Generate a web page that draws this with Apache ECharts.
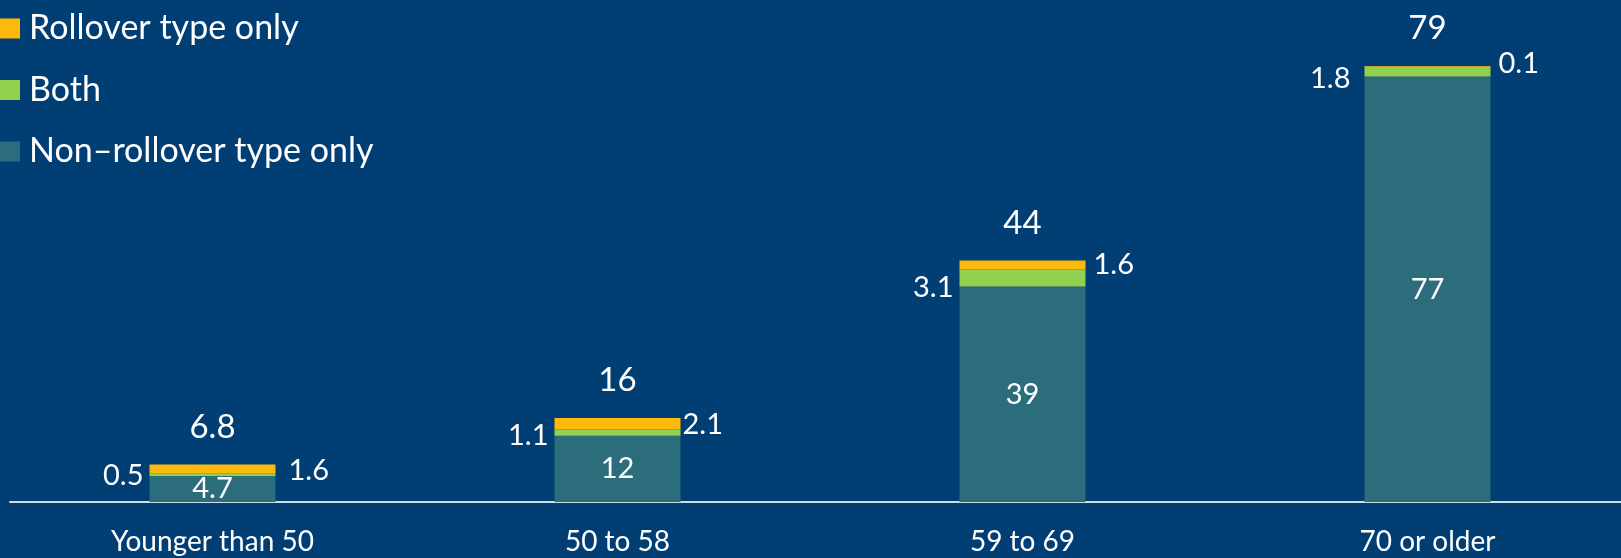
<!DOCTYPE html>
<html>
<head>
<meta charset="utf-8">
<title>Accounts by age group</title>
<script src="https://cdn.jsdelivr.net/npm/echarts@6/dist/echarts.min.js"></script>
<style>
  html, body { margin: 0; padding: 0; background: #013E74; overflow: hidden; }
  /* canvas runs a little past the right edge so the last band is full width */
  #chart { width: 1640px; height: 558px; }
</style>
</head>
<body>
<div id="chart"></div>
<script>
// Age groups along the x axis
const categories = ['Younger than 50', '50 to 58', '59 to 69', '70 or older'];

// Stacked segments, bottom to top
const nonRollover = [4.7, 12, 39, 77];
const both = [0.5, 1.1, 3.1, 1.8];
const rolloverOnly = [1.6, 2.1, 1.6, 0.1];

// Totals printed above each stack
const totals = [6.8, 16, 44, 79];

const seriesNames = ['Rollover type only', 'Both', 'Non\u2013rollover type only'];

const FONT = 'Lato, "Open Sans", sans-serif';
const WHITE = '#FFFFFF';

// hand-placed label nudges [dx, dy] for the side labels
const bothLabelShift = [[0, 1], [0, 3], [0, 10], [-8, 7]];
const rolloverLabelShift = [[5, 2], [-6, 1], [0, 0], [0, -3]];

function withShift(values, shifts) {
  return values.map((v, i) => ({ value: v, label: { offset: shifts[i] } }));
}

const chart = echarts.init(document.getElementById('chart'), null, { renderer: 'canvas' });

const option = {
  backgroundColor: '#013E74',
  animation: false,
  textStyle: { fontFamily: FONT },
  legend: {
    orient: 'vertical',
    left: 0,
    top: 11.5,
    padding: 0,
    itemWidth: 20,
    itemHeight: 20,
    itemGap: 27.5,
    icon: 'rect',
    data: seriesNames,
    textStyle: {
      color: WHITE,
      fontFamily: FONT,
      fontSize: 34,
      padding: [0, 0, 0, 4]
    }
  },
  grid: {
    left: 10,
    width: 1620,
    top: 60,
    height: 442,
    containLabel: false
  },
  xAxis: {
    type: 'category',
    data: categories,
    axisLine: { show: true, lineStyle: { color: '#D3DBE4', width: 2 } },
    axisTick: { show: false },
    axisLabel: {
      color: WHITE,
      fontFamily: FONT,
      fontSize: 28,
      margin: 26
    }
  },
  yAxis: {
    type: 'value',
    min: 0,
    max: 80,
    show: false,
    splitLine: { show: false }
  },
  series: [
    {
      name: seriesNames[2],
      type: 'bar',
      stack: 'age',
      barWidth: 126,
      data: nonRollover,
      itemStyle: { color: '#2C6D7C' },
      label: {
        show: true,
        position: 'inside',
        color: WHITE,
        fontFamily: FONT,
        fontSize: 29
      }
    },
    {
      name: seriesNames[1],
      type: 'bar',
      stack: 'age',
      barWidth: 126,
      data: withShift(both, bothLabelShift),
      itemStyle: { color: '#92D050' },
      label: {
        show: true,
        position: 'left',
        distance: 6,
        color: WHITE,
        fontFamily: FONT,
        fontSize: 29
      }
    },
    {
      name: seriesNames[0],
      type: 'bar',
      stack: 'age',
      barWidth: 126,
      data: withShift(rolloverOnly, rolloverLabelShift),
      itemStyle: { color: '#FFB80C' },
      label: {
        show: true,
        position: 'right',
        distance: 8,
        color: WHITE,
        fontFamily: FONT,
        fontSize: 29
      }
    },
    {
      // zero-height cap carrying the total above each stack
      name: 'Total',
      type: 'bar',
      stack: 'age',
      barWidth: 126,
      data: totals.map(() => 0),
      itemStyle: { color: 'rgba(0,0,0,0)' },
      legendHoverLink: false,
      label: {
        show: true,
        position: 'top',
        distance: 21,
        color: WHITE,
        fontFamily: FONT,
        fontSize: 33,
        formatter: (p) => String(totals[p.dataIndex])
      }
    }
  ]
};

chart.setOption(option);
</script>
</body>
</html>
